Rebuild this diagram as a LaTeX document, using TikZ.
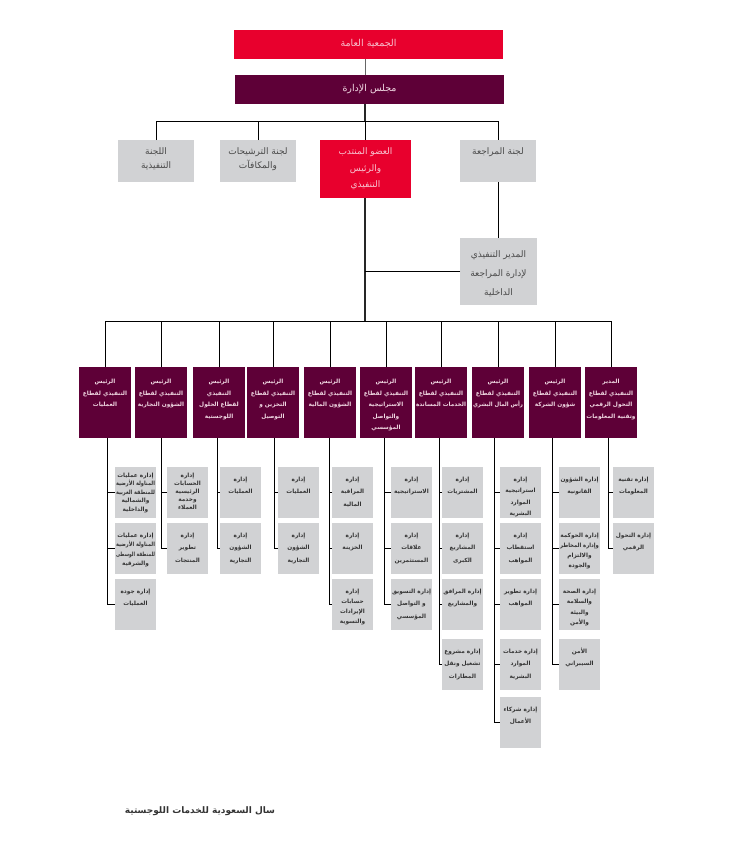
\documentclass[tikz,border=0pt]{standalone}
\usepackage{fontspec}
\usepackage{graphicx}
\TeXXeTstate=1
\newfontfamily\arabicfont[Script=Arabic]{DejaVu Sans}
\definecolor{cred}{HTML}{E8002D}
\definecolor{cplum}{HTML}{5E0037}
\definecolor{cgray}{HTML}{D1D2D4}
\definecolor{credtxt}{HTML}{F7C3D0}
\definecolor{cplumtxt}{HTML}{F1D9E3}
\definecolor{cgtxt}{HTML}{4A4A4A}
\definecolor{csubtxt}{HTML}{333333}
\newsavebox\lnbox
\newcommand\AL[1]{\sbox\lnbox{\beginR#1\endR}\ht\lnbox=0.7em\dp\lnbox=0.2em
  \ifdim\wd\lnbox>\dimexpr\linewidth-2pt\relax
    \resizebox{\dimexpr\linewidth-2pt\relax}{\height}{\usebox\lnbox}%
  \else\usebox\lnbox\fi}
\newcommand\cell[6]{\parbox[c][#2][t]{#1}{#5\centering\baselineskip=#4\relax\lineskiplimit=-30pt\lineskip=0pt\vspace*{#3}#6\par}}
\newcommand\fTop{\arabicfont\fontsize{9.5}{11}\selectfont}
\newcommand\fBig{\arabicfont\fontsize{9}{10.5}\selectfont}
\newcommand\fSm{\arabicfont\bfseries\fontsize{5.8}{6.8}\selectfont}
\newcommand\fFoot{\arabicfont\bfseries\fontsize{9}{10}\selectfont}
\newcommand\cmt[1]{\cell{76pt}{42pt}{8pt}{14pt}{\fBig}{#1}}
\newcommand\ceo[1]{\cell{91pt}{58pt}{8.5pt}{16.5pt}{\fBig}{#1}}
\newcommand\iad[1]{\cell{77pt}{67pt}{13.5pt}{19pt}{\fBig}{#1}}
\newcommand\pbx[1]{\cell{52pt}{71pt}{12.5pt}{11.5pt}{\fSm}{#1}}
\newcommand\sbx[2][12.5pt]{\cell{41pt}{51pt}{10pt}{#1}{\fSm}{#2}}
\tikzset{
  base/.style={rectangle, inner sep=0pt, outer sep=0pt, anchor=north west},
  redbox/.style={base, fill=cred, text=credtxt},
  plumbox/.style={base, fill=cplum, text=cplumtxt},
  graybox/.style={base, fill=cgray, text=cgtxt},
  subbox/.style={base, fill=cgray, text=csubtxt},
  conn/.style={draw=black, line width=1pt},
  mainconn/.style={draw=black!85, line width=1.6pt},
}
\begin{document}
\begin{tikzpicture}[x=1pt, y=-1pt]
\useasboundingbox (0,0) rectangle (733,843);
% top
\node[redbox, minimum width=269pt, minimum height=29pt] (ga) at (234,30) {\fTop\AL{الجمعية العامة}};
\node[plumbox, minimum width=269pt, minimum height=29pt] (bd) at (235,75) {\fTop\AL{مجلس الإدارة}};
% committees
\node[graybox] (c1) at (118,140) {\cmt{\AL{اللجنة}\\\AL{التنفيذية}}};
\node[graybox] (c2) at (220,140) {\cmt{\AL{لجنة الترشيحات}\\\AL{والمكافآت}}};
\node[redbox] (c3) at (320,140) {\ceo{\AL{العضو المنتدب}\\\AL{والرئيس}\\\AL{التنفيذي}}};
\node[graybox] (c4) at (460,140) {\cmt{\AL{لجنة المراجعة}}};
\node[graybox] (ia) at (460,238) {\iad{\AL{المدير التنفيذي}\\\AL{لإدارة المراجعة}\\\AL{الداخلية}}};
% executives
\node[plumbox] (p1) at (79,367) {\pbx{\AL{الرئيس}\\\AL{التنفيذي لقطاع}\\\AL{العمليات}}};
\node[plumbox] (p2) at (135,367) {\pbx{\AL{الرئيس}\\\AL{التنفيذي لقطاع}\\\AL{الشؤون التجارية}}};
\node[plumbox] (p3) at (193,367) {\pbx{\AL{الرئيس}\\\AL{التنفيذي}\\\AL{لقطاع الحلول}\\\AL{اللوجستية}}};
\node[plumbox] (p4) at (247,367) {\pbx{\AL{الرئيس}\\\AL{التنفيذي لقطاع}\\\AL{التخزين و}\\\AL{التوصيل}}};
\node[plumbox] (p5) at (304,367) {\pbx{\AL{الرئيس}\\\AL{التنفيذي لقطاع}\\\AL{الشؤون المالية}}};
\node[plumbox] (p6) at (360,367) {\pbx{\AL{الرئيس}\\\AL{التنفيذي لقطاع}\\\AL{الاستراتيجية}\\\AL{والتواصل}\\\AL{المؤسسي}}};
\node[plumbox] (p7) at (415,367) {\pbx{\AL{الرئيس}\\\AL{التنفيذي لقطاع}\\\AL{الخدمات المساندة}}};
\node[plumbox] (p8) at (472,367) {\pbx{\AL{الرئيس}\\\AL{التنفيذي لقطاع}\\\AL{رأس المال البشري}}};
\node[plumbox] (p9) at (529,367) {\pbx{\AL{الرئيس}\\\AL{التنفيذي لقطاع}\\\AL{شؤون الشركة}}};
\node[plumbox] (p10) at (585,367) {\pbx{\AL{المدير}\\\AL{التنفيذي لقطاع}\\\AL{التحول الرقمي}\\\AL{وتقنية المعلومات}}};
% spines
\coordinate (s1) at (107,0);
\coordinate (s2) at (161,0);
\coordinate (s3) at (217,0);
\coordinate (s4) at (274,0);
\coordinate (s5) at (329,0);
\coordinate (s6) at (384,0);
\coordinate (s7) at (439,0);
\coordinate (s8) at (494,0);
\coordinate (s9) at (552,0);
\coordinate (s10) at (608,0);
% departments col 1
\node[subbox] (g1a) at (115,467) {\sbx[8.5pt]{\vspace*{-4pt}\AL{إدارة عمليات}\\\AL{المناولة الأرضية}\\\AL{للمنطقة الغربية}\\\AL{والشمالية}\\\AL{والداخلية}}};
\node[subbox] (g1b) at (115,523) {\sbx[9.5pt]{\AL{إدارة عمليات}\\\AL{المناولة الأرضية}\\\AL{للمنطقة الوسطى}\\\AL{والشرقية}}};
\node[subbox] (g1c) at (115,579) {\sbx{\AL{إدارة جودة}\\\AL{العمليات}}};
% col 2
\node[subbox] (g2a) at (167,467) {\sbx[8pt]{\vspace*{-4pt}\AL{إدارة}\\\AL{الحسابات}\\\AL{الرئيسية}\\\AL{وخدمة}\\\AL{العملاء}}};
\node[subbox] (g2b) at (167,523) {\sbx{\AL{إدارة}\\\AL{تطوير}\\\AL{المنتجات}}};
% col 3
\node[subbox] (g3a) at (220,467) {\sbx{\AL{إدارة}\\\AL{العمليات}}};
\node[subbox] (g3b) at (220,523) {\sbx{\AL{إدارة}\\\AL{الشؤون}\\\AL{التجارية}}};
% col 4
\node[subbox] (g4a) at (278,467) {\sbx{\AL{إدارة}\\\AL{العمليات}}};
\node[subbox] (g4b) at (278,523) {\sbx{\AL{إدارة}\\\AL{الشؤون}\\\AL{التجارية}}};
% col 5
\node[subbox] (g5a) at (332,467) {\sbx{\AL{إدارة}\\\AL{المراقبة}\\\AL{المالية}}};
\node[subbox] (g5b) at (332,523) {\sbx{\AL{إدارة}\\\AL{الخزينة}}};
\node[subbox] (g5c) at (332,579) {\sbx[10pt]{\AL{إدارة}\\\AL{حسابات}\\\AL{الإيرادات}\\\AL{والتسوية}}};
% col 6
\node[subbox] (g6a) at (391,467) {\sbx{\AL{إدارة}\\\AL{الاستراتيجية}}};
\node[subbox] (g6b) at (391,523) {\sbx{\AL{إدارة}\\\AL{علاقات}\\\AL{المستثمرين}}};
\node[subbox] (g6c) at (391,579) {\sbx{\AL{إدارة التسويق}\\\AL{و التواصل}\\\AL{المؤسسي}}};
% col 7
\node[subbox] (g7a) at (442,467) {\sbx{\AL{إدارة}\\\AL{المشتريات}}};
\node[subbox] (g7b) at (442,523) {\sbx{\AL{إدارة}\\\AL{المشاريع}\\\AL{الكبرى}}};
\node[subbox] (g7c) at (442,579) {\sbx{\AL{إدارة المرافق}\\\AL{والمشاريع}}};
\node[subbox] (g7d) at (442,639) {\sbx{\AL{إدارة مشروع}\\\AL{تشغيل ونقل}\\\AL{المطارات}}};
% col 8
\node[subbox] (g8a) at (500,467) {\sbx[11.5pt]{\AL{إدارة}\\\AL{استراتيجية}\\\AL{الموارد}\\\AL{البشرية}}};
\node[subbox] (g8b) at (500,523) {\sbx{\AL{إدارة}\\\AL{استقطاب}\\\AL{المواهب}}};
\node[subbox] (g8c) at (500,579) {\sbx{\AL{إدارة تطوير}\\\AL{المواهب}}};
\node[subbox] (g8d) at (500,639) {\sbx{\AL{إدارة خدمات}\\\AL{الموارد}\\\AL{البشرية}}};
\node[subbox] (g8e) at (500,697) {\sbx{\AL{إدارة شركاء}\\\AL{الأعمال}}};
% col 9
\node[subbox] (g9a) at (559,467) {\sbx{\AL{إدارة الشؤون}\\\AL{القانونية}}};
\node[subbox] (g9b) at (559,523) {\sbx[10pt]{\AL{إدارة الحوكمة}\\\AL{وإدارة المخاطر}\\\AL{والالتزام}\\\AL{والجودة}}};
\node[subbox] (g9c) at (559,579) {\sbx[10.5pt]{\AL{إدارة الصحة}\\\AL{والسلامة}\\\AL{والبيئة}\\\AL{والأمن}}};
\node[subbox] (g9d) at (559,639) {\sbx{\AL{الأمن}\\\AL{السيبراني}}};
% col 10
\node[subbox] (g10a) at (613,467) {\sbx{\AL{إدارة تقنية}\\\AL{المعلومات}}};
\node[subbox] (g10b) at (613,523) {\sbx{\AL{إدارة التحول}\\\AL{الرقمي}}};
% footer
\node[text=csubtxt, inner sep=0pt] (ft) at (200,811) {\fFoot\AL{سال السعودية للخدمات اللوجستية}};
% connectors top
\coordinate (m) at (365,0);
\coordinate (r) at (498,0);
\coordinate (bus1) at (365,121);
\coordinate (bus2) at (365,321);
\draw[draw=black!60, line width=1pt] (ga.south -| m) -- (bd.north -| m);
\draw[mainconn] (bd.south -| m) -- (bus1);
\draw[conn] (c1.north) -- (c1.north |- bus1) -- (c4.north |- bus1) -- (c4.north);
\draw[conn] (c2.north) -- (c2.north |- bus1);
\draw[conn] (c3.north) -- (c3.north |- bus1);
\draw[conn] (c4.south -| r) -- (ia.north -| r);
\draw[mainconn] (c3.south -| m) -- (bus2);
\draw[conn] (ia.west) -- (ia.west -| m);
\draw[conn] (p1.north) -- (p1.north |- bus2) -- (p10.north |- bus2) -- (p10.north);
\foreach \k in {2,...,9} {\draw[conn] (p\k.north) -- (p\k.north |- bus2);}
% spines
\foreach \c/\l/\lst in {1/c/{a,b,c}, 2/b/{a,b}, 3/b/{a,b}, 4/b/{a,b}, 5/c/{a,b,c}, 6/c/{a,b,c}, 7/d/{a,b,c,d}, 8/e/{a,b,c,d,e}, 9/d/{a,b,c,d}, 10/b/{a,b}} {
  \draw[conn] (p\c.south -| s\c) -- (s\c |- g\c\l.west);
  \foreach \r in \lst {\draw[conn] (s\c |- g\c\r.west) -- (g\c\r.west);}
}
\end{tikzpicture}
\end{document}
